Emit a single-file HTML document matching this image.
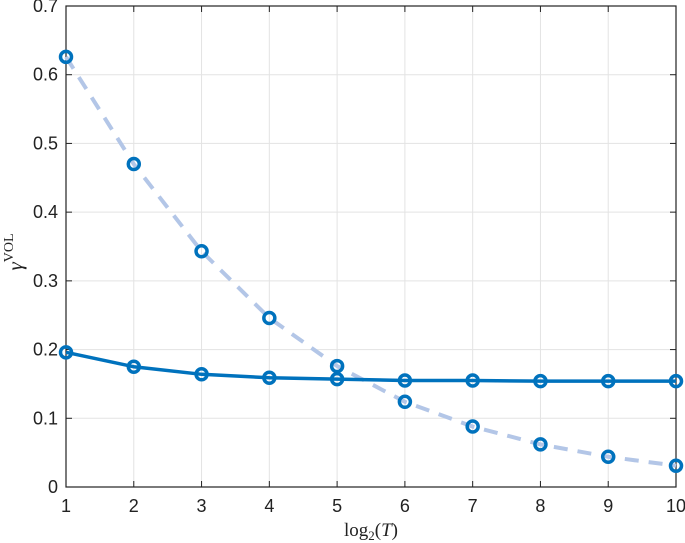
<!DOCTYPE html>
<html><head><meta charset="utf-8"><style>
body{margin:0;background:#fff;}
svg{display:block;font-family:"Liberation Sans",sans-serif;}
</style></head><body>
<svg id="chart" width="685" height="543" xmlns="http://www.w3.org/2000/svg"></svg>
<script>
const xCats=[1,2,3,4,5,6,7,8,9,10];
const dashedVals=[0.626,0.470,0.343,0.246,0.176,0.124,0.088,0.062,0.044,0.031];
const solidVals=[0.196,0.175,0.164,0.159,0.157,0.155,0.155,0.154,0.154,0.154];
const yTicks=[0,0.1,0.2,0.3,0.4,0.5,0.6,0.7];
const yTickLabels=["0","0.1","0.2","0.3","0.4","0.5","0.6","0.7"];
const xTicks=[1,2,3,4,5,6,7,8,9,10];

const L=66,R=676,T=6,B=487;
const sx=v=>L+(v-1)/9*(R-L);
const sy=v=>B-v/0.7*(B-T);
const svg=document.getElementById('chart');
const NS='http://www.w3.org/2000/svg';
function mk(tag,attrs,parent){const e=document.createElementNS(NS,tag);for(const k in attrs)e.setAttribute(k,attrs[k]);(parent||svg).appendChild(e);return e;}

const grid=mk('g',{});


xTicks.forEach(v=>mk('line',{x1:sx(v),x2:sx(v),y1:T,y2:B,stroke:'#e3e3e3','stroke-width':1},grid));
yTicks.forEach(v=>mk('line',{x1:L,x2:R,y1:sy(v),y2:sy(v),stroke:'#e3e3e3','stroke-width':1},grid));

const ax=mk('g',{});


mk('rect',{x:L,y:T,width:R-L,height:B-T,fill:'none',stroke:'#222','stroke-width':1.2},ax);
xTicks.forEach(v=>{
  mk('line',{x1:sx(v),x2:sx(v),y1:B,y2:B-6,stroke:'#222'},ax);
  mk('line',{x1:sx(v),x2:sx(v),y1:T,y2:T+6,stroke:'#222'},ax);
  const t=mk('text',{x:sx(v),y:B+25,'text-anchor':'middle','font-size':18,fill:'#222'},ax);
  t.textContent=v;
  
  
});
yTicks.forEach((v,i)=>{
  mk('line',{x1:L,x2:L+6,y1:sy(v),y2:sy(v),stroke:'#222'},ax);
  mk('line',{x1:R,x2:R-6,y1:sy(v),y2:sy(v),stroke:'#222'},ax);
  const t=mk('text',{x:L-8,y:sy(v)+6,'text-anchor':'end','font-size':18,fill:'#222'},ax);
  t.textContent=yTickLabels[i];
  
  
});

const xt=mk('text',{x:(L+R)/2,y:536,'text-anchor':'middle','font-size':19,'font-family':'Liberation Serif, serif',fill:'#222'});
xt.innerHTML='log<tspan font-size="13" dy="4">2</tspan><tspan dy="-4">(</tspan><tspan font-style="italic">T</tspan>)';


const yt=mk('text',{transform:'translate(22,252) rotate(-90)','text-anchor':'middle','font-size':21,'font-family':'Liberation Serif, serif',fill:'#222'});
yt.innerHTML='<tspan font-style="italic">γ</tspan><tspan font-size="14" dy="-9">VOL</tspan>';



const dl=mk('polyline',{points:xCats.map((x,i)=>sx(x)+','+sy(dashedVals[i])).join(' '),fill:'none',stroke:'#b3c6e7','stroke-width':4,'stroke-dasharray':'14,10'});


const sl=mk('polyline',{points:xCats.map((x,i)=>sx(x)+','+sy(solidVals[i])).join(' '),fill:'none',stroke:'#0072BD','stroke-width':3.5});



[dashedVals,solidVals].forEach((arr,k)=>{
  arr.forEach((v,i)=>{
    const c=mk('circle',{cx:sx(xCats[i]),cy:sy(v),r:5.5,fill:'none',stroke:'#0072BD','stroke-width':3.5});
    
    
  });
});
</script>
</body></html>
